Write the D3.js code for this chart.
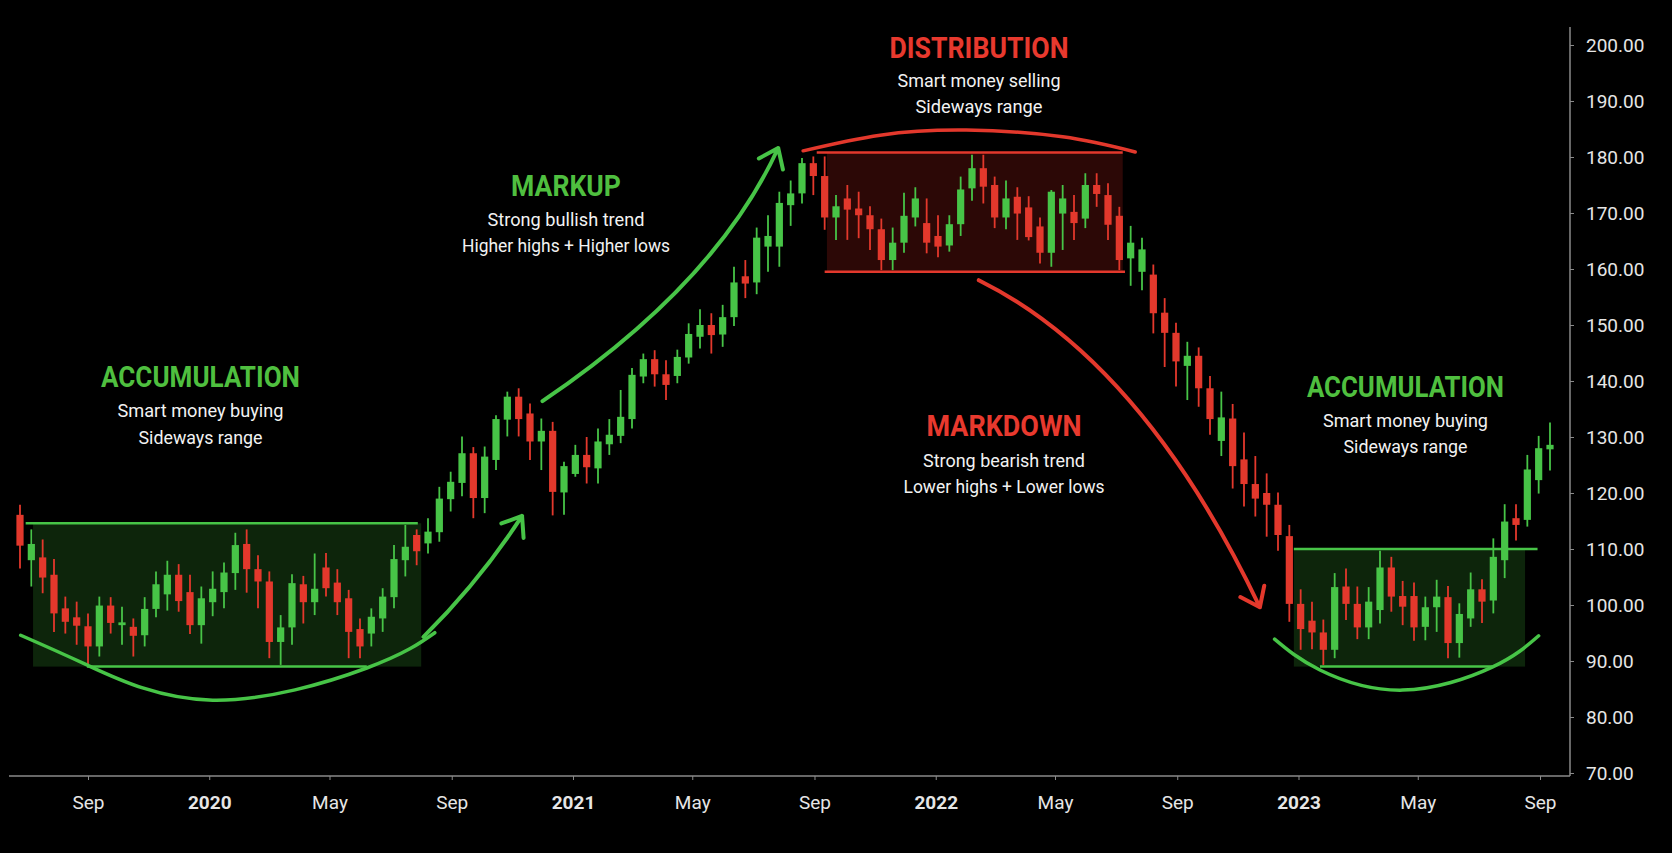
<!DOCTYPE html>
<html>
<head>
<meta charset="utf-8">
<script src="https://cdn.jsdelivr.net/npm/d3@7"></script>
<style>
  body { margin: 0; background: #000; }
  svg { display: block; }
  text { font-family: Roboto, "Open Sans", sans-serif; }
</style>
</head>
<body>
<svg id="chart" width="1672" height="853"></svg>
<script>
// candle values, one entry per bar
const opens = [116.1,108.0,108.5,105.4,99.4,97.8,96.2,92.6,99.9,96.4,96.1,94.6,99.3,101.9,105.4,102.3,96.4,100.5,102.3,105.7,
  110.9,106.4,104.2,93.4,96.0,103.7,100.5,106.7,104.0,101.2,95.7,94.9,97.6,101.4,108.0,112.5,111.0,113.0,118.9,121.8,
  127.1,119.1,125.9,133.1,137.2,134.2,129.2,131.1,120.1,123.4,126.8,124.4,128.7,130.2,133.2,140.8,143.9,141.2,140.9,144.2,
  147.9,150.0,148.3,151.4,158.7,157.6,164.0,164.0,171.4,173.5,178.9,176.6,169.2,172.6,170.8,169.6,167.1,161.6,164.7,169.2,
  168.2,165.9,164.2,168.0,174.4,178.0,175.0,169.2,172.9,171.0,167.6,162.9,169.9,170.2,169.0,175.0,173.2,169.5,161.9,159.5,
  159.0,152.2,148.6,142.7,144.5,138.7,129.3,133.3,126.0,121.6,120.0,117.9,112.3,100.2,97.2,95.1,92.0,103.3,100.2,96.0,
  99.1,106.7,101.6,101.6,96.1,99.6,101.4,93.2,97.6,102.8,100.8,108.0,115.5,115.2,122.3,127.8];
const highs = [117.9,113.5,111.7,108.2,101.5,100.6,98.5,101.5,101.4,99.7,97.6,101.4,106.0,107.9,107.3,105.4,103.3,106.0,107.6,112.9,
  113.5,108.9,106.0,98.2,105.5,105.2,109.2,109.3,106.4,102.7,97.6,99.4,103.0,110.7,114.3,113.5,115.5,121.1,123.8,130.1,
  128.2,128.3,133.9,138.1,138.7,136.0,133.3,132.7,125.6,128.6,130.0,131.5,133.2,138.4,142.3,144.9,145.5,143.7,145.6,150.3,
  152.8,152.1,153.6,160.4,161.6,167.4,169.6,173.8,175.8,179.8,180.1,180.1,173.2,175.0,173.8,171.2,169.0,167.4,173.6,174.6,
  172.6,169.6,169.6,176.5,180.4,180.4,176.5,175.8,174.6,173.0,169.2,174.1,175.0,173.2,177.1,177.1,175.3,171.1,167.7,165.6,
  160.8,154.8,150.4,147.0,146.0,140.9,138.1,135.9,130.8,126.6,123.5,120.1,114.3,102.8,100.6,97.4,105.7,106.5,103.3,103.2,
  109.7,108.6,104.3,104.0,101.5,104.5,103.4,100.3,105.8,104.6,111.9,118.0,118.0,126.8,130.2,132.6];
const lows = [106.5,103.3,102.1,95.2,94.9,92.9,89.3,90.8,94.9,92.9,90.8,92.6,97.8,99.0,98.8,94.8,93.1,98.0,99.4,102.7,
  102.2,99.4,90.5,89.3,92.9,96.7,98.2,101.5,98.2,90.5,90.5,92.6,95.2,99.4,105.1,107.1,109.2,111.3,116.7,119.4,
  115.5,116.4,124.1,130.1,130.1,125.9,124.1,116.0,116.1,122.9,121.7,121.7,126.8,128.9,131.5,139.6,139.0,136.6,139.6,143.1,
  145.8,144.9,146.1,149.8,154.8,155.5,159.5,160.4,167.7,171.7,173.2,167.0,165.2,165.2,165.5,163.4,159.8,159.8,162.9,167.6,
  162.8,162.1,163.1,165.9,172.2,171.7,167.3,167.1,165.2,165.1,161.0,160.4,163.4,165.2,167.3,171.1,165.2,159.8,157.0,156.2,
  148.5,142.5,139.0,136.6,135.4,130.4,126.6,120.8,117.6,115.8,112.2,109.7,97.0,92.0,92.1,89.3,90.5,97.3,93.9,93.9,
  96.7,98.8,96.4,93.6,93.7,95.2,90.5,90.6,96.1,96.8,98.5,104.8,111.5,114.0,119.9,124.0];
const closes = [110.6,110.9,104.9,98.5,97.0,96.3,92.6,99.9,96.8,96.9,94.5,99.3,103.7,105.4,100.7,96.4,101.2,102.9,105.8,110.7,
  106.4,104.2,93.4,96.0,103.9,100.5,102.9,103.0,100.5,95.2,92.6,97.9,101.5,108.2,110.4,109.6,113.1,119.0,122.0,127.1,
  119.1,126.5,133.2,137.2,133.2,129.2,131.1,120.2,124.8,126.8,124.6,129.2,130.4,133.6,141.1,143.9,141.2,139.3,144.3,148.4,
  150.0,148.2,151.4,157.6,157.4,165.6,165.9,171.8,173.5,178.9,176.6,169.2,171.2,170.6,169.6,167.1,161.6,164.7,169.5,172.6,
  164.7,164.0,168.0,174.2,178.0,174.7,169.2,172.6,169.9,165.7,162.9,173.8,172.6,168.2,175.0,173.4,167.9,161.6,164.7,163.5,
  152.1,148.6,143.5,144.5,138.7,133.2,133.5,124.8,121.6,119.0,117.9,112.5,100.2,95.7,95.1,92.0,103.2,100.2,96.0,100.6,
  106.7,101.5,99.7,96.0,99.6,101.5,93.2,98.4,102.8,100.6,108.6,114.9,114.3,124.2,128.0,128.6];

const priceTicks = [70, 80, 90, 100, 110, 120, 130, 140, 150, 160, 170, 180, 190, 200];
const dateTicks = ["2019-09-01", "2020-01-01", "2020-05-01", "2020-09-01", "2021-01-01", "2021-05-01", "2021-09-01",
  "2022-01-01", "2022-05-01", "2022-09-01", "2023-01-01", "2023-05-01", "2023-09-01"];
const dateLabels = ["Sep", "2020", "May", "Sep", "2021", "May", "Sep", "2022", "May", "Sep", "2023", "May", "Sep"];

// the three sideways ranges (candle index / price)
const zoneKind = ["accumulation", "distribution", "accumulation"];
const zoneFillFrom = [1.15, 71.2, 112.4];
const zoneFillTo = [35.4, 97.3, 132.8];
const zoneTopFrom = [0.5, 70.3, 112.4];
const zoneTopTo = [35.1, 97.3, 133.9];
const zoneBottomFrom = [5.9, 71.0, 114.7];
const zoneBottomTo = [30.6, 97.5, 129.9];
const zoneTop = [114.6, 180.8, 110.0];
const zoneBottom = [89.0, 159.5, 89.0];

// hand drawn curves, [candle index, price]
const arcAccum1 = [[0.06, 94.6], [5.9, 89.3], [17.0, 83.0], [30.6, 88.75], [36.6, 95.05]];
const arcDistrib = [[69.1, 181.1], [75.9, 183.9], [83.5, 184.8], [92.0, 183.6], [98.4, 180.9]];
const arcAccum2 = [[110.7, 93.9], [114.7, 88.4], [122.0, 84.8], [129.9, 88.9], [134.0, 94.5]];
// arrows: start, control, tip
const arrowBreakout = [[35.6, 94.3], [40.6, 104.4], [44.3, 115.9]];
const arrowMarkup = [[46.1, 136.4], [61.4, 157.3], [66.9, 181.6]];
const arrowMarkdown = [[84.6, 158.0], [99.1, 143.4], [109.4, 99.6]];

const GREEN = "#47c447", RED = "#e3382c";
const TITLE_GREEN = "#4fbf3f", TITLE_RED = "#e8392e";

const svg = d3.select("#chart");
svg.append("rect").attr("width", 1672).attr("height", 853).attr("fill", "#000");

const x = d3.scaleLinear().domain([0, opens.length - 1]).range([20, 1550]);
const y = d3.scaleLinear().domain([70, 200]).range([773, 45]);
const xt = d3.scaleTime().domain([new Date(2019, 8, 1), new Date(2023, 8, 1)]).range([88, 1540]);

const candles = opens.map((o, i) => ({ i: i, o: o, h: highs[i], l: lows[i], c: closes[i] }));

// zone fills + border lines
const zones = svg.append("g");
zoneKind.forEach(function (k, i) {
    const col = k === "distribution" ? RED : GREEN;
    zones.append("rect")
        .attr("x", x(zoneFillFrom[i]))
        .attr("y", y(zoneTop[i]))
        .attr("width", x(zoneFillTo[i]) - x(zoneFillFrom[i]))
        .attr("height", y(zoneBottom[i]) - y(zoneTop[i]))
        .attr("fill", k === "distribution" ? "rgba(170,30,25,0.26)" : "rgba(60,170,50,0.22)");
    zones.append("line")
        .attr("x1", x(zoneTopFrom[i])).attr("x2", x(zoneTopTo[i]))
        .attr("y1", y(zoneTop[i])).attr("y2", y(zoneTop[i]))
        .attr("stroke", col).attr("stroke-width", 2.5);
    zones.append("line")
        .attr("x1", x(zoneBottomFrom[i])).attr("x2", x(zoneBottomTo[i]))
        .attr("y1", y(zoneBottom[i])).attr("y2", y(zoneBottom[i]))
        .attr("stroke", col).attr("stroke-width", 2.5);
});

// candles
const cg = svg.append("g");
cg.selectAll("line.wick")
    .data(candles)
    .enter()
    .append("line")
    .attr("class", "wick")
    .attr("x1", d => x(d.i)).attr("x2", d => x(d.i))
    .attr("y1", d => y(d.h)).attr("y2", d => y(d.l))
    .attr("stroke", d => d.c >= d.o ? GREEN : RED)
    .attr("stroke-width", 1.8);

cg.selectAll("rect.body")
    .data(candles)
    .enter()
    .append("rect")
    .attr("class", "body")
    .attr("x", d => x(d.i) - 3.6)
    .attr("width", 7.2)
    .attr("y", d => y(Math.max(d.o, d.c)))
    .attr("height", d => Math.max(2, Math.abs(y(d.o) - y(d.c))))
    .attr("fill", d => d.c >= d.o ? GREEN : RED);

// arcs
const arcLine = d3.line().x(d => x(d[0])).y(d => y(d[1])).curve(d3.curveNatural);
[[arcAccum1, GREEN], [arcDistrib, RED], [arcAccum2, GREEN]].forEach(function (a) {
    svg.append("path")
        .attr("d", arcLine(a[0]))
        .attr("fill", "none")
        .attr("stroke", a[1])
        .attr("stroke-width", 3.5)
        .attr("stroke-linecap", "round");
});

// curved arrows
function drawArrow(pts, color) {
    const p0 = [x(pts[0][0]), y(pts[0][1])];
    const p1 = [x(pts[1][0]), y(pts[1][1])];
    const p2 = [x(pts[2][0]), y(pts[2][1])];
    const p = d3.path();
    p.moveTo(p0[0], p0[1]);
    p.quadraticCurveTo(p1[0], p1[1], p2[0], p2[1]);
    const ang = Math.atan2(p1[1] - p2[1], p1[0] - p2[0]);
    const len = 22, spread = 37 * Math.PI / 180;
    [ang - spread, ang + spread].forEach(function (a) {
        p.moveTo(p2[0], p2[1]);
        p.lineTo(p2[0] + len * Math.cos(a), p2[1] + len * Math.sin(a));
    });
    svg.append("path")
        .attr("d", p.toString())
        .attr("fill", "none")
        .attr("stroke", color)
        .attr("stroke-width", 4)
        .attr("stroke-linecap", "round")
        .attr("stroke-linejoin", "round");
}
drawArrow(arrowBreakout, GREEN);
drawArrow(arrowMarkup, GREEN);
drawArrow(arrowMarkdown, RED);

// y axis on the right
const yAxis = svg.append("g")
    .attr("transform", "translate(1570,0)")
    .call(d3.axisRight(y).tickValues(priceTicks).tickFormat(d3.format(".2f")).tickSize(4).tickPadding(12));
yAxis.select(".domain").remove();
yAxis.selectAll("line").attr("stroke", "#8a8a8a");
yAxis.selectAll("text").attr("fill", "#e6e6e6").style("font-size", "19px");
svg.append("line")
    .attr("x1", 1570).attr("x2", 1570).attr("y1", 27).attr("y2", 776)
    .attr("stroke", "#8a8a8a").attr("stroke-width", 1.5);

// x axis
const parse = d3.timeParse("%Y-%m-%d");
const xAxis = svg.append("g")
    .attr("transform", "translate(0,776)")
    .call(d3.axisBottom(xt).tickValues(dateTicks.map(parse)).tickFormat((d, i) => dateLabels[i]).tickSize(4));
xAxis.select(".domain").remove();
xAxis.selectAll("line").attr("stroke", "#8a8a8a");
xAxis.selectAll("text")
    .attr("y", 33).attr("dy", null)
    .attr("fill", "#e6e6e6")
    .style("font-size", "19px")
    .style("font-weight", (d, i) => /^\d{4}$/.test(dateLabels[i]) ? "700" : "400");
svg.append("line")
    .attr("x1", 9).attr("x2", 1570).attr("y1", 776).attr("y2", 776)
    .attr("stroke", "#8a8a8a").attr("stroke-width", 1.5);

// phase labels
function note(cx, by, str, size, weight, color, len) {
    svg.append("text")
        .attr("x", cx).attr("y", by)
        .attr("text-anchor", "middle")
        .attr("fill", color)
        .attr("textLength", len)
        .attr("lengthAdjust", "spacingAndGlyphs")
        .style("font-size", size + "px")
        .style("font-weight", weight)
        .text(str);
}
note(200.5, 387, "ACCUMULATION", 29, 700, TITLE_GREEN, 199);
note(200.5, 417, "Smart money buying", 18, 400, "#f2f2f2", 166);
note(200.5, 443.5, "Sideways range", 18, 400, "#f2f2f2", 124);

note(566, 196, "MARKUP", 29, 700, TITLE_GREEN, 110);
note(566, 226, "Strong bullish trend", 18, 400, "#f2f2f2", 157);
note(566, 251.5, "Higher highs + Higher lows", 18, 400, "#f2f2f2", 208);

note(979, 57.5, "DISTRIBUTION", 29, 700, TITLE_RED, 179);
note(979, 86.5, "Smart money selling", 18, 400, "#f2f2f2", 163);
note(979, 113, "Sideways range", 18, 400, "#f2f2f2", 127);

note(1004, 436, "MARKDOWN", 29, 700, TITLE_RED, 155);
note(1004, 467, "Strong bearish trend", 18, 400, "#f2f2f2", 162);
note(1004, 492.5, "Lower highs + Lower lows", 18, 400, "#f2f2f2", 201);

note(1405.5, 396.5, "ACCUMULATION", 29, 700, TITLE_GREEN, 197);
note(1405.5, 426.7, "Smart money buying", 18, 400, "#f2f2f2", 165);
note(1405.5, 452.7, "Sideways range", 18, 400, "#f2f2f2", 124);
</script>
</body>
</html>
